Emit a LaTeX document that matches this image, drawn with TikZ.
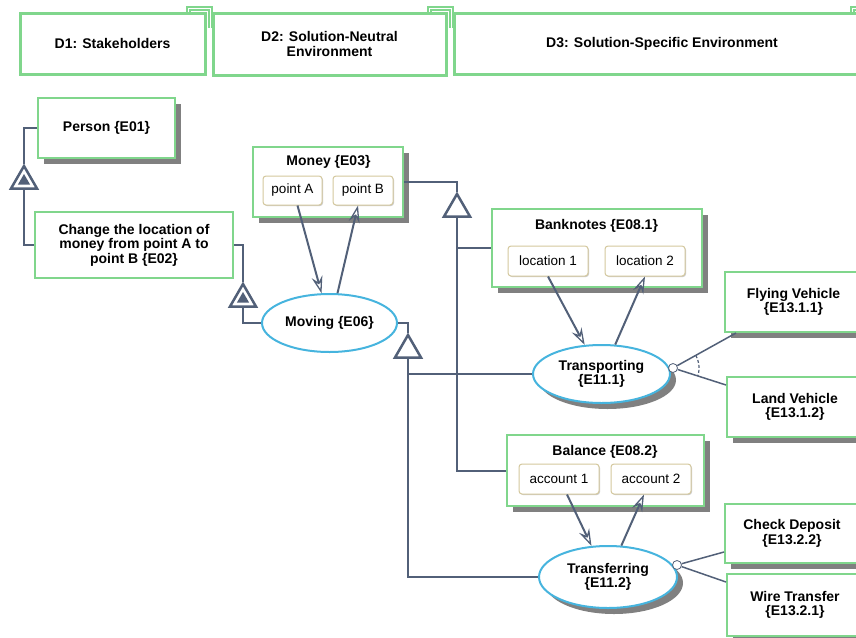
\documentclass[tikz,border=0pt]{standalone}
\usepackage{fontspec}
\setmainfont{Liberation Sans}
\usetikzlibrary{arrows.meta,shapes.geometric,shadows,calc}

\definecolor{objgreen}{RGB}{128,214,140}
\definecolor{procblue}{RGB}{70,180,222}
\definecolor{linkgray}{RGB}{82,96,120}
\definecolor{shade}{RGB}{128,128,128}
\definecolor{statebrd}{RGB}{212,200,158}

\tikzset{
  boldtext/.style={font=\bfseries\fontsize{14}{14.5}\selectfont},
  dbox/.style={draw=objgreen, line width=3pt, fill=white, align=center, boldtext, inner sep=0pt},
  dcorner/.style={draw=objgreen, line width=2pt, double=white, double distance=1pt},
  objbox/.style={draw=objgreen, line width=2pt, fill=white, align=center, boldtext, inner sep=0pt},
  physical/.style={drop shadow={shadow xshift=6pt, shadow yshift=-6pt, fill=shade, opacity=1}},
  proc/.style={ellipse, draw=procblue, line width=2pt, fill=white, align=center, boldtext, inner sep=0pt},
  statebox/.style={rounded corners=3pt, draw=statebrd, line width=1pt, fill=white,
    drop shadow={shadow xshift=1pt, shadow yshift=-1pt, fill=black!20, opacity=1},
    font=\fontsize{13.5}{14}\selectfont, inner sep=0pt},
  title/.style={boldtext, inner sep=0pt},
  link/.style={draw=linkgray, line width=2pt},
  gen/.style={regular polygon, regular polygon sides=3, draw=linkgray, line width=2.5pt,
    fill=white, minimum size=30pt, inner sep=0pt},
  exhib/.style={regular polygon, regular polygon sides=3, fill=linkgray, minimum size=14pt, inner sep=0pt},
  effect/.style={link, -{Stealth[open, length=17pt, width=11pt, inset=6pt, line width=1.3pt]}},
  branch/.style={draw=linkgray, line width=1.5pt},
  hub/.style={circle, draw=linkgray, line width=0.8pt, fill=white, minimum size=9pt, inner sep=0pt},
}

\begin{document}
\begin{tikzpicture}[x=1pt, y=-1pt]
\useasboundingbox (0,0) rectangle (856,637);
\clip (0,0) rectangle (856,637);

% ---- view headers ----
\draw[dcorner] (188,13) |- (210.5,8.5) -- (210.5,28);
\draw[dcorner] (429,14) |- (451.5,8.5) -- (451.5,28);
\draw[dcorner] (852,13) |- (875,8.5) -- (875,28);
\node[dbox, minimum width=185pt, minimum height=61pt] (d1) at (112.5,43.5) {D1: Stakeholders};
\node[dbox, minimum width=233pt, minimum height=62pt] (d2) at (329.5,44) {D2: Solution-Neutral\\Environment};
\node[dbox, minimum width=415pt, minimum height=61pt] (d3) at (662,43.5) {D3: Solution-Specific Environment};

% ---- objects ----
\node[objbox, physical, minimum width=137pt, minimum height=60pt] (person) at (106.5,128) {Person \{E01\}};
\node[objbox, minimum width=198pt, minimum height=66pt] (change) at (134,245)
  {Change the location of\\money from point A to\\point B \{E02\}};

\node[objbox, physical, minimum width=150pt, minimum height=70pt] (money) at (328,182) {};
\node[title] (moneyT) at (328.5,162) {Money \{E03\}};
\node[statebox, minimum width=59pt, minimum height=29pt] (pA) at (292.5,190.5) {point A};
\node[statebox, minimum width=60pt, minimum height=29pt] (pB) at (363,190.5) {point B};

\node[objbox, physical, minimum width=210pt, minimum height=78pt] (bank) at (597,248) {};
\node[title] (bankT) at (596.5,226) {Banknotes \{E08.1\}};
\node[statebox, minimum width=80pt, minimum height=30pt] (loc1) at (548,261) {location 1};
\node[statebox, minimum width=80pt, minimum height=30pt] (loc2) at (645,261) {location 2};

\node[objbox, physical, minimum width=197pt, minimum height=71pt] (balance) at (605.5,470.5) {};
\node[title] (balanceT) at (605,452) {Balance \{E08.2\}};
\node[statebox, minimum width=80pt, minimum height=30pt] (acc1) at (559,479) {account 1};
\node[statebox, minimum width=80pt, minimum height=30pt] (acc2) at (651,479) {account 2};

\node[objbox, physical, minimum width=137pt, minimum height=60pt] (flying) at (793.5,302) {Flying Vehicle\\\{E13.1.1\}};
\node[objbox, physical, minimum width=136pt, minimum height=60pt] (land) at (795,407) {Land Vehicle\\\{E13.1.2\}};
\node[objbox, physical, minimum width=134pt, minimum height=59pt] (check) at (792,533.5) {Check Deposit\\\{E13.2.2\}};
\node[objbox, physical, minimum width=136pt, minimum height=62pt] (wire) at (795,605) {Wire Transfer\\\{E13.2.1\}};

% ---- processes ----
\node[proc, minimum width=135pt, minimum height=58pt] (moving) at (329.5,323) {Moving \{E06\}};
\node[proc, physical, minimum width=137pt, minimum height=58pt] (transporting) at (601.5,374) {Transporting\\\{E11.1\}};
\node[proc, physical, minimum width=138pt, minimum height=62pt] (transferring) at (608,577) {Transferring\\\{E11.2\}};

% ---- structural links ----
\node[gen] (t1) at (24,181) {};
\node[exhib] (t1in) at (24,181) {};
\node[gen] (t2) at (243,299) {};
\node[exhib] (t2in) at (243,299) {};
\node[gen] (t3) at (457,209) {};
\node[gen] (t4) at (408,350) {};

\draw[link] (person.west) -| (t1.north);
\draw[link] (t1.south) |- (change.west);
\draw[link] (change.east) -| (t2.north);
\draw[link] (t2.south) |- (moving.west);
\draw[link] (money.east) -| (t3.north);
\draw[link] (t3.south) |- (bank.west);
\draw[link] (t3.south) |- (balance.west);
\draw[link] (moving.east) -| (t4.north);
\draw[link] (t4.south) |- (transporting.west);
\draw[link] (t4.south) |- (transferring.west);

% ---- state changes ----
\draw[effect] ([xshift=5pt]pA.south) -- (moving.105);
\draw[effect] (moving.75) -- ([xshift=-5pt]pB.south);
\draw[effect] (loc1.south) -- (transporting.120);
\draw[effect] (transporting.65) -- (loc2.south);
\draw[effect] ([xshift=8pt]acc1.south) -- (transferring.118);
\draw[effect] (transferring.67) -- ([xshift=-7pt]acc2.south);

% ---- invocation fans ----
\node[hub] (hub1) at (673,368) {};
\node[hub] (hub2) at (677,565) {};
\draw[branch] (hub1) -- ([xshift=12pt]flying.south west);
\draw[branch] (hub1) -- ([yshift=-9pt]land.north west);
\draw[branch] (hub2) -- ([yshift=12pt]check.south west);
\draw[branch] (hub2) -- ([yshift=-9pt]wire.north west);
\draw[draw=linkgray, line width=1.2pt, dash pattern=on 3pt off 2pt]
  plot[domain=-29:18, samples=25] ({673+26*cos(\x)},{368+26*sin(\x)});
\end{tikzpicture}
\end{document}
